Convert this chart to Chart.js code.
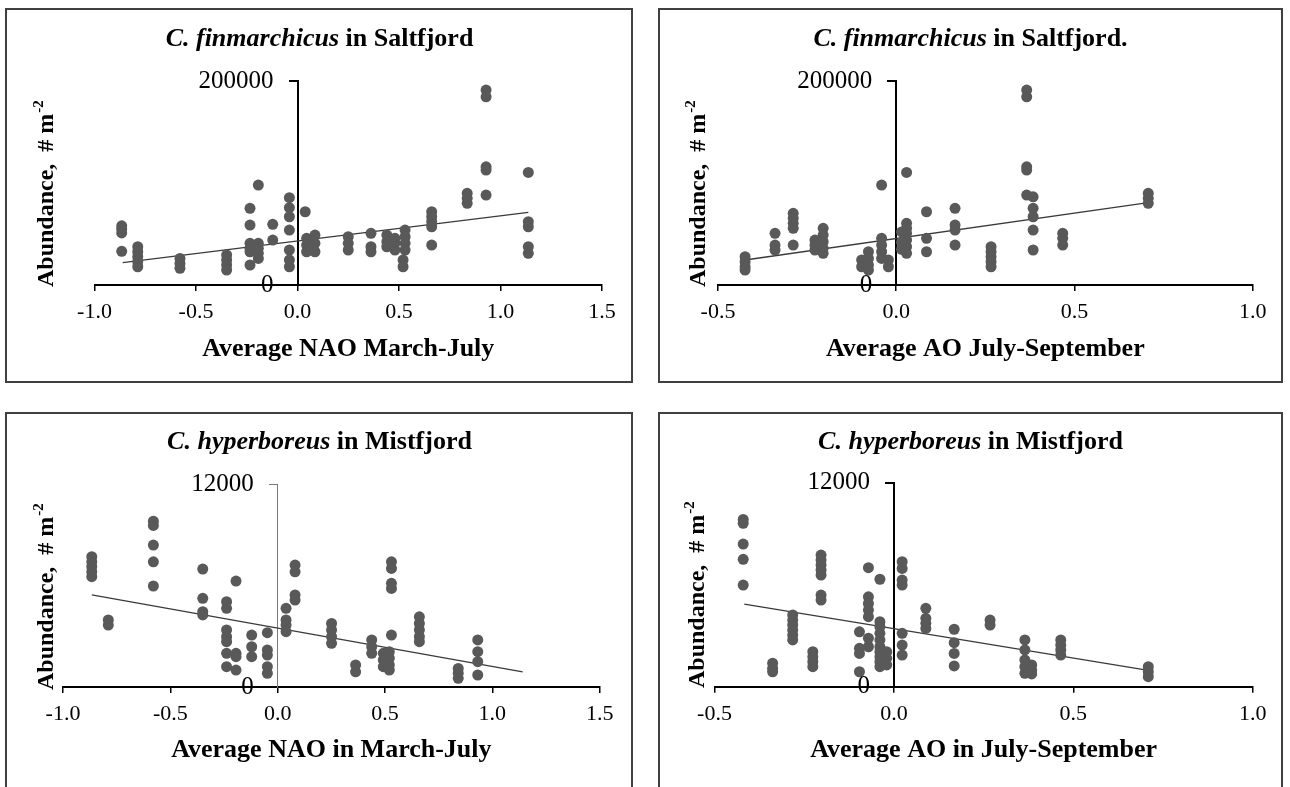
<!DOCTYPE html>
<html><head><meta charset="utf-8">
<script src="https://cdn.jsdelivr.net/npm/chart.js@4.4.1/dist/chart.umd.min.js"></script>
<style>
html,body{margin:0;padding:0;background:#fff;}
body{width:1290px;height:787px;position:relative;overflow:hidden;}
.panel{position:absolute;}
.panel canvas{position:absolute;left:0;top:0;}
.frame{position:absolute;left:0;top:0;box-sizing:border-box;border:2px solid #404040;pointer-events:none;}
</style></head><body>
<div class="panel" style="left:5px;top:8px;width:628px;height:375px"><canvas id="c1" width="628" height="375"></canvas><div class="frame" style="width:628px;height:375px"></div></div>
<div class="panel" style="left:658px;top:8px;width:625px;height:375px"><canvas id="c2" width="625" height="375"></canvas><div class="frame" style="width:625px;height:375px"></div></div>
<div class="panel" style="left:5px;top:412px;width:628px;height:390px"><canvas id="c3" width="628" height="390"></canvas><div class="frame" style="width:628px;height:390px"></div></div>
<div class="panel" style="left:658px;top:412px;width:625px;height:390px"><canvas id="c4" width="625" height="390"></canvas><div class="frame" style="width:625px;height:390px"></div></div>
<script>
const FONT = "'Liberation Serif', 'Times New Roman', serif";

// tick labels
const naoTicks = ['-1.0', '-0.5', '0.0', '0.5', '1.0', '1.5'];
const aoTicks = ['-0.5', '0.0', '0.5', '1.0'];
const finYTicks = ['0', '200000'];
const hypYTicks = ['0', '12000'];

// C. finmarchicus in Saltfjord vs NAO (March-July)
const finNaoX = [-0.866,-0.866,-0.866,-0.866, -0.787,-0.787,-0.787,-0.787,-0.787, -0.579,-0.579,-0.579,
  -0.349,-0.349,-0.349,-0.349, -0.234,-0.234,-0.234,-0.234,-0.234,-0.234, -0.193,-0.193,-0.193,-0.193,-0.193,
  -0.122,-0.122, -0.04,-0.04,-0.04,-0.04,-0.04,-0.04,-0.04, 0.038,0.045,0.045,0.045, 0.086,0.086,0.086,
  0.25,0.25,0.25, 0.362,0.362,0.362, 0.44,0.44,0.44, 0.48,0.48,0.48, 0.53,0.53,0.53,0.53, 0.52,0.52,
  0.661,0.661,0.661,0.661,0.661, 0.836,0.836,0.836, 0.929,0.929,0.929,0.929,0.929, 1.137,1.137,1.137,1.137,1.137];
const finNaoY = [58000,55000,51000,33000, 37500,32600,27700,22800,17900, 26100,21200,16300,
  29400,24500,19600,14700, 75200,58800,40900,36000,32600,19600, 98000,40900,36000,31100,26100,
  59500,44100, 85600,75800,66900,53900,34300,24500,17900, 71800,45800,39200,32600, 49000,40900,32600,
  47300,40900,34300, 50700,37500,32600, 49000,42400,37500, 45800,40900,34300, 53900,47300,40900,34300, 24500,17900,
  71800,66900,62000,57100,39200, 89900,85000,80100, 191100,184500,115900,112700,88200, 110400,62000,57100,37500,31100];

// C. finmarchicus in Saltfjord vs AO (July-September)
const finAoX = [-0.424,-0.424,-0.424,-0.424, -0.34,-0.34,-0.34, -0.289,-0.289,-0.289,-0.289,-0.289,
  -0.228,-0.228,-0.228, -0.205,-0.205,-0.205,-0.205,-0.205, -0.097,-0.097, -0.078,-0.078,-0.078,-0.078,
  -0.041,-0.041,-0.041,-0.041,-0.041, -0.022,-0.022, 0.029,0.029,0.029,0.029,0.029,0.029,0.029, 0.015,0.015,0.015,
  0.085,0.085,0.085, 0.165,0.165,0.165,0.165, 0.266,0.266,0.266,0.266,0.266, 0.366,0.366,0.366,0.366,0.366,
  0.384,0.384,0.384,0.384,0.384, 0.467,0.467,0.467, 0.707,0.707,0.707];
const finAoY = [27700,22800,17900,14700, 50700,39200,34300, 70300,65400,60500,55600,39200,
  44100,39200,34300, 55600,49000,42400,36000,31100, 24500,17900, 32600,26100,19600,14700,
  98000,45800,39200,32600,26100, 24500,17900, 110400,60500,55600,50700,44100,37500,31100, 52000,42000,35000,
  71800,45800,32600, 75200,58800,53900,39200, 37500,32600,27700,22800,17900, 191100,184500,115900,112700,88200,
  86500,75200,66900,53900,34300, 50700,45800,39200, 89900,85000,80100];

// C. hyperboreus in Mistfjord vs NAO (March-July)
const hypNaoX = [-0.866,-0.866,-0.866,-0.866,-0.866, -0.789,-0.789, -0.579,-0.579,-0.579,-0.579,-0.579,
  -0.349,-0.349,-0.349,-0.349, -0.238,-0.238,-0.238,-0.238,-0.238,-0.238,-0.238, -0.194,-0.194,-0.194,-0.194,
  -0.121,-0.121,-0.121, -0.048,-0.048,-0.048,-0.048,-0.048, 0.039,0.039,0.039,0.039, 0.081,0.081,0.081,0.081,
  0.251,0.251,0.251,0.251, 0.363,0.363, 0.438,0.438,0.438, 0.492,0.492,0.492, 0.52,0.52,0.52,0.52,
  0.53,0.53,0.53,0.53,0.53, 0.66,0.66,0.66,0.66,0.66, 0.841,0.841,0.841, 0.932,0.932,0.932,0.932];
const hypNaoY = [7700,7400,7110,6810,6520, 3960,3660, 9800,9550,8390,7400,5970,
  6970,5240,4450,4260, 5040,4650,3370,2970,2680,1990,1200, 6260,1990,1790,1000,
  3070,2380,1790, 3210,2190,1890,1200,810, 4650,3960,3660,3270, 7210,6810,5440,5140,
  3760,3370,2970,2580, 1300,900, 2780,2380,1990, 1990,1600,1200, 2090,1700,1300,1000,
  7400,7010,6130,5830,3070, 4150,3760,3370,2970,2680, 1100,810,510, 2780,2090,1500,710];

// C. hyperboreus in Mistfjord vs AO (July-September)
const hypAoX = [-0.42,-0.42,-0.42,-0.42,-0.42, -0.338,-0.338,-0.338, -0.282,-0.282,-0.282,-0.282,-0.282,-0.282,
  -0.226,-0.226,-0.226,-0.226, -0.203,-0.203,-0.203,-0.203,-0.203,-0.203,-0.203, -0.096,-0.096,-0.096,-0.096,
  -0.071,-0.071,-0.071,-0.071,-0.071,-0.071,-0.071, -0.039,-0.039,-0.039,-0.039,-0.039,-0.039,-0.039,-0.039,-0.039,-0.039,
  -0.02,-0.02,-0.02, 0.023,0.023,0.023,0.023,0.023,0.023,0.023, 0.089,0.089,0.089,0.089, 0.168,0.168,0.168,0.168,
  0.268,0.268, 0.365,0.365,0.365,0.365,0.365, 0.384,0.384,0.384, 0.465,0.465,0.465,0.465, 0.709,0.709,0.709];
const hypAoY = [9840,9610,8390,7490,5980, 1380,1080,880, 4220,3920,3630,3330,3040,2750,
  2060,1760,1470,1180, 7740,7450,7160,6860,6570,5390,5100, 3230,2260,1960,880,
  7000,5290,4900,4510,4120,2850,2350, 6320,3820,3530,3140,2750,2350,2060,1760,1470,1180,
  2060,1670,1280, 7350,6960,6270,5980,3140,2450,1860, 4610,4020,3730,3430, 3380,2590,1960,1220,
  3920,3630, 2750,2160,1570,1180,790, 1280,980,750, 2750,2450,2160,1860, 1180,880,590];

// linear trend lines (end points)
const finNaoTrendX = [-0.861, 1.137]; const finNaoTrendY = [21900, 71200];
const finAoTrendX = [-0.424, 0.707];  const finAoTrendY = [24500, 80700];
const hypNaoTrendX = [-0.866, 1.141]; const hypNaoTrendY = [5440, 900];
const hypAoTrendX = [-0.417, 0.705];  const hypAoTrendY = [4860, 980];

const annot = {
  id: 'annot',
  afterDraw(chart, args, o) {
    const ctx = chart.ctx;
    const xs = chart.scales.x, ys = chart.scales.y;
    ctx.save();
    ctx.fillStyle = '#000';
    ctx.textBaseline = 'middle';
    // main title
    const f1 = `italic bold ${o.titleSize}px ${FONT}`, f2 = `bold ${o.titleSize}px ${FONT}`;
    ctx.font = f1; const w1 = ctx.measureText(o.titleItalic).width;
    ctx.font = f2; const w2 = ctx.measureText(o.titleRest).width;
    const x0 = o.titleCX - (w1 + w2) / 2;
    ctx.textAlign = 'left';
    ctx.font = f1; ctx.fillText(o.titleItalic, x0, o.titleY);
    ctx.font = f2; ctx.fillText(o.titleRest, x0 + w1, o.titleY);
    // y tick labels
    ctx.font = `${o.yTickSize}px ${FONT}`;
    ctx.textAlign = 'right';
    const ax = xs.getPixelForValue(0);
    ys.ticks.forEach((t, i) => ctx.fillText(o.yLabels[i], ax - o.yLabelGap, ys.getPixelForValue(t.value)));
    // y axis title
    ctx.translate(o.yTitleX, o.yTitleBottom);
    ctx.rotate(-Math.PI / 2);
    ctx.textAlign = 'left';
    ctx.font = `bold ${o.yTitleSize}px ${FONT}`;
    ctx.fillText(o.yTitle, 0, 0);
    const w = ctx.measureText(o.yTitle).width;
    ctx.font = `bold ${Math.round(o.yTitleSize * 0.62)}px ${FONT}`;
    ctx.fillText(o.yTitleSup, w + 1, -o.yTitleSize * 0.34);
    ctx.restore();
  }
};

function makeChart(id, c) {
  const pts = c.xs.map((x, i) => ({x: x, y: c.ys[i]}));
  const trend = c.tx.map((x, i) => ({x: x, y: c.ty[i]}));
  new Chart(document.getElementById(id), {
    type: 'scatter',
    data: { datasets: [
      { data: pts, pointRadius: 5.5, pointHoverRadius: 5.5, pointBackgroundColor: '#595959', pointBorderWidth: 0, borderWidth: 0 },
      { data: trend, showLine: true, borderColor: '#3a3a3a', borderWidth: 1.3, pointRadius: 0, fill: false }
    ]},
    options: {
      responsive: false, animation: false, devicePixelRatio: 1,
      layout: { padding: { left: c.padL, right: c.padR, top: c.padT, bottom: 0 } },
      plugins: { legend: { display: false }, tooltip: { enabled: false }, annot: c.annot },
      events: [],
      scales: {
        x: {
          type: 'linear', position: 'bottom', min: c.xmin, max: c.xmax,
          ticks: { stepSize: 0.5, autoSkip: false, maxRotation: 0, padding: 8, color: '#000',
                   font: { family: FONT, size: 22 }, callback: (v, i) => c.xTicks[i] },
          grid: { display: true, drawOnChartArea: false, drawTicks: true, tickLength: 6, tickColor: '#000', lineWidth: 1.5 },
          border: { display: true, color: '#000', width: 2 },
          title: { display: true, text: c.xTitle, color: '#000', font: { family: FONT, size: 26, weight: 'bold' },
                   padding: { top: 0, bottom: c.xTitlePad } },
          afterFit: (s) => { s.height = c.axisH; }
        },
        y: {
          type: 'linear', position: { x: 0 }, min: 0, max: c.ymax,
          ticks: { stepSize: c.ymax, display: false },
          grid: { display: true, drawOnChartArea: false, drawTicks: true, tickLength: 8, tickColor: c.yColor, lineWidth: c.yWidth },
          border: { display: true, color: c.yColor, width: c.yWidth }
        }
      }
    },
    plugins: [annot]
  });
}

const yTitleText = 'Abundance,  # m';

makeChart('c1', {
  xs: finNaoX, ys: finNaoY, tx: finNaoTrendX, ty: finNaoTrendY,
  xmin: -1, xmax: 1.5, xTicks: naoTicks, ymax: 200000,
  xTitle: 'Average NAO March-July', padL: 89.5, padR: 31, padT: 73, axisH: 98, xTitlePad: 17.9,
  yColor: '#000', yWidth: 2,
  annot: { titleItalic: 'C. finmarchicus', titleRest: ' in Saltfjord', titleCX: 314.5, titleY: 31, titleSize: 26,
           yLabels: finYTicks, yTickSize: 25, yLabelGap: 24,
           yTitle: yTitleText, yTitleSup: '-2', yTitleX: 42, yTitleBottom: 279, yTitleSize: 24 }
});
makeChart('c2', {
  xs: finAoX, ys: finAoY, tx: finAoTrendX, ty: finAoTrendY,
  xmin: -0.5, xmax: 1, xTicks: aoTicks, ymax: 200000,
  xTitle: 'Average AO July-September', padL: 60, padR: 30.3, padT: 73, axisH: 98, xTitlePad: 17.9,
  yColor: '#000', yWidth: 2,
  annot: { titleItalic: 'C. finmarchicus', titleRest: ' in Saltfjord.', titleCX: 312.5, titleY: 31, titleSize: 26,
           yLabels: finYTicks, yTickSize: 25, yLabelGap: 24,
           yTitle: yTitleText, yTitleSup: '-2', yTitleX: 41, yTitleBottom: 279, yTitleSize: 24 }
});
makeChart('c3', {
  xs: hypNaoX, ys: hypNaoY, tx: hypNaoTrendX, ty: hypNaoTrendY,
  xmin: -1, xmax: 1.5, xTicks: naoTicks, ymax: 12000,
  xTitle: 'Average NAO in March-July', padL: 58, padR: 33.3, padT: 72, axisH: 115, xTitlePad: 36.4,
  yColor: '#7a7a7a', yWidth: 1,
  annot: { titleItalic: 'C. hyperboreus', titleRest: ' in Mistfjord', titleCX: 314.5, titleY: 30, titleSize: 26,
           yLabels: hypYTicks, yTickSize: 25, yLabelGap: 24,
           yTitle: yTitleText, yTitleSup: '-2', yTitleX: 42, yTitleBottom: 278, yTitleSize: 24 }
});
makeChart('c4', {
  xs: hypAoX, ys: hypAoY, tx: hypAoTrendX, ty: hypAoTrendY,
  xmin: -0.5, xmax: 1, xTicks: aoTicks, ymax: 12000,
  xTitle: 'Average AO in July-September', padL: 56.5, padR: 30.3, padT: 70.7, axisH: 115.3, xTitlePad: 36.4,
  yColor: '#000', yWidth: 2,
  annot: { titleItalic: 'C. hyperboreus', titleRest: ' in Mistfjord', titleCX: 312.5, titleY: 30, titleSize: 26,
           yLabels: hypYTicks, yTickSize: 25, yLabelGap: 24,
           yTitle: yTitleText, yTitleSup: '-2', yTitleX: 40, yTitleBottom: 276, yTitleSize: 24 }
});
</script>
</body></html>
